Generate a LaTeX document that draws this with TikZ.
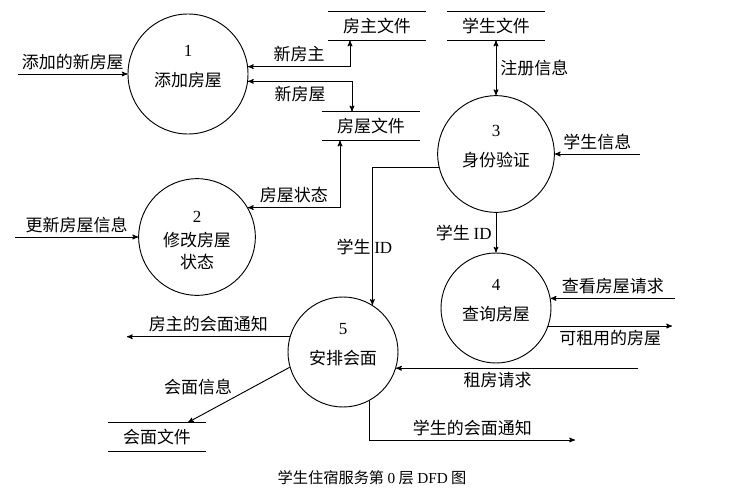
\documentclass[tikz,border=0pt]{standalone}
\usepackage{fontspec}
\setmainfont{Liberation Serif}
\newfontfamily\cjk{Noto Sans CJK SC}
\usetikzlibrary{arrows}

\begin{document}
\begin{tikzpicture}[x=0.03cm,y=-0.03cm,->,>=stealth',thick,
  font=\cjk\fontsize{14.5}{19}\selectfont,
  proc/.style={circle,draw,minimum size=3.5cm,text height=0.84cm,text depth=0.1cm},
  num/.style={yshift=0.7cm,font=\rmfamily\fontsize{14.5}{19}\selectfont},
  store/.style={minimum width=2.9cm,minimum height=0.85cm,inner sep=0pt,
    append after command={(\tikzlastnode.north west) edge[-] (\tikzlastnode.north east)
      (\tikzlastnode.south west) edge[-] (\tikzlastnode.south east)}}]
  \useasboundingbox (0,0) rectangle (742,500);
  \node[proc,minimum size=3.6cm,label={[num]center:1}] (p1) at (188,74) {添加房屋};
  \node[proc,align=center,text height=1.98cm,text depth=0.1cm,
    label={[num,yshift=-0.1cm]center:2}] (p2) at (197,237) {修改房屋\\状态};
  \node[proc,label={[num]center:3}] (p3) at (496,154) {身份验证};
  \node[proc,minimum size=3.3cm,label={[num]center:4}] (p4) at (496,308) {查询房屋};
  \node[proc,minimum size=3.3cm,label={[num]center:5}] (p5) at (343,352) {安排会面};
  \node[store] (ownerfile) at (377,26) {房主文件};
  \node[store] (stufile) at (496,26) {学生文件};
  \node[store] (housefile) at (371,126) {房屋文件};
  \node[store] (meetfile) at (157,437) {会面文件};
  \coordinate (in1) at (18,74);
  \coordinate (in2) at (15,237);
  \coordinate (in3) at (640,154);
  \coordinate (in4) at (p4.10 -| 675,0);
  \coordinate (out4) at (p4.-19 -| 672,0);
  \coordinate (in5) at (p5.-17 -| 638,0);
  \coordinate (out5a) at (p5.164 -| 127,0);
  \coordinate (out5b) at (575,440);
  \path (in1) edge node[above] {添加的新房屋} (p1)
        (in2) edge node[above] {更新房屋信息} (p2)
        (in3) edge node[above] {学生信息} (p3)
        (in4) edge node[above] {查看房屋请求} (p4.10)
        (p4.-19) edge node[below] {可租用的房屋} (out4)
        (in5) edge node[below,pos=0.58] {租房请求} (p5.-17)
        (p5.164) edge node[above] {房主的会面通知} (out5a)
        (p5.196) edge node[pos=0.36,left=0.5cm] {会面信息} (188,0 |- meetfile.north)
        (p3) edge node[left] {学生 {\rmfamily ID}} (p4)
        (stufile) edge[<->] node[right] {注册信息} (p3);
  \draw[<->] (p1.7) -| node[above,pos=0.25] {新房主} (350,0 |- ownerfile.south);
  \draw[<->] (p1.-7) -| node[below,pos=0.25] {新房屋} (352,0 |- housefile.north);
  \draw[<->] (p2.30) -| node[above,pos=0.25] {房屋状态} (340,0 |- housefile.south);
  \draw (p3.193) -| node[pos=0.79,xshift=-0.24cm] {学生 {\rmfamily ID}} (p5.58);
  \draw (p5.-61) |- node[above,pos=0.75] {学生的会面通知} (out5b);
  \node (title) at (372,478) {\fontsize{13}{16}\selectfont 学生住宿服务第 {\rmfamily 0} 层 {\rmfamily DFD} 图};
\end{tikzpicture}
\end{document}
